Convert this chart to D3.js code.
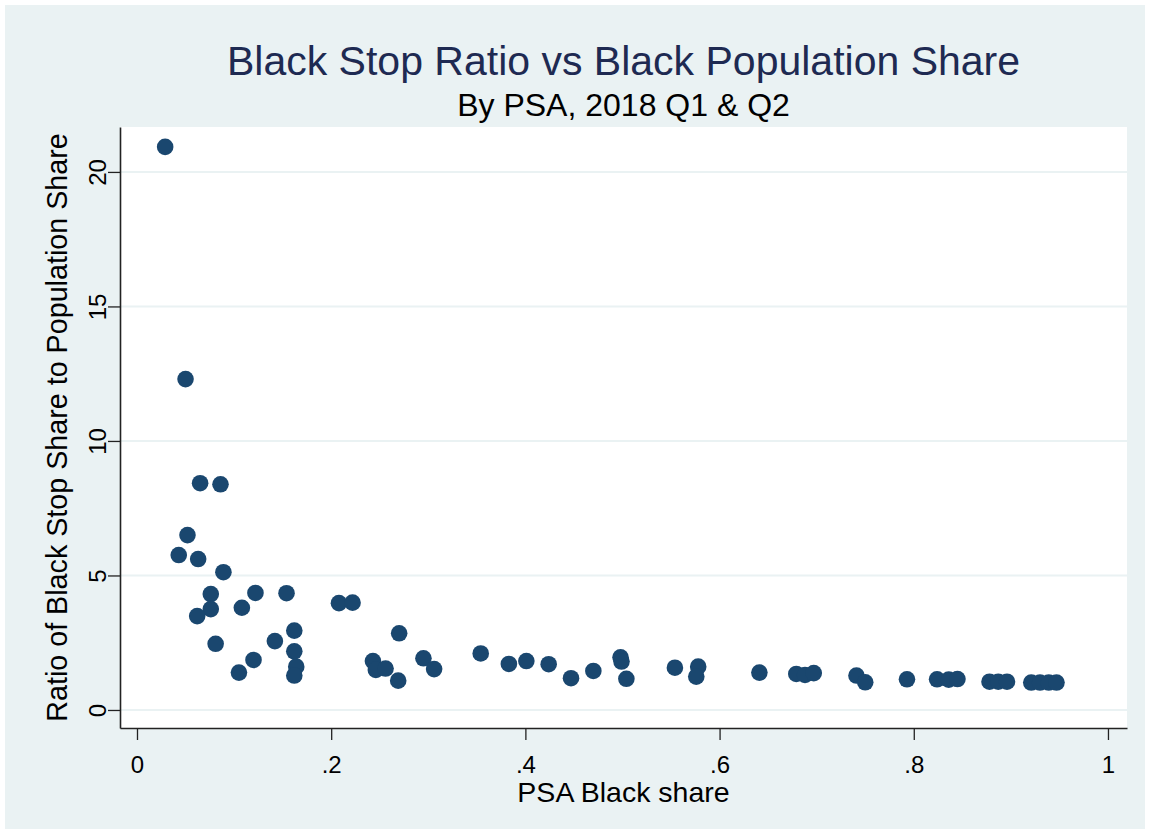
<!DOCTYPE html>
<html>
<head>
<meta charset="utf-8">
<script src="https://cdn.jsdelivr.net/npm/d3@7"></script>
<style>
  body { margin: 0; background: #fff; }
  text { font-family: "Liberation Sans", Arial, sans-serif; }
</style>
</head>
<body>
<svg id="viz" width="1151" height="834"></svg>
<script>
// PSA black population share (x) and black stop ratio (y)
var blackShare = [0.029, 0.050, 0.065, 0.086, 0.052, 0.043, 0.063, 0.089,
	0.076, 0.076, 0.062, 0.081, 0.105, 0.108, 0.120, 0.122,
	0.142, 0.154, 0.162, 0.162, 0.164, 0.162,
	0.208, 0.222, 0.243, 0.246, 0.256, 0.269, 0.270, 0.295, 0.306,
	0.354, 0.383, 0.401, 0.424, 0.447, 0.470, 0.498, 0.499, 0.504,
	0.554, 0.578, 0.576,
	0.641, 0.679, 0.688, 0.697, 0.741, 0.750, 0.793,
	0.824, 0.836, 0.845, 0.878, 0.887, 0.896,
	0.921, 0.930, 0.939, 0.947];
var stopRatio = [20.93, 12.30, 8.43, 8.39, 6.50, 5.76, 5.61, 5.12,
	4.31, 3.75, 3.49, 2.46, 1.39, 3.80, 1.86, 4.35,
	2.56, 4.34, 2.95, 2.18, 1.61, 1.28,
	3.97, 3.99, 1.82, 1.49, 1.54, 1.09, 2.85, 1.92, 1.52,
	2.10, 1.71, 1.82, 1.70, 1.18, 1.45, 1.96, 1.80, 1.16,
	1.57, 1.61, 1.24,
	1.39, 1.34, 1.30, 1.37, 1.28, 1.03, 1.14,
	1.14, 1.13, 1.15, 1.05, 1.05, 1.05,
	1.02, 1.02, 1.02, 1.02];
var xTicks = [0, 0.2, 0.4, 0.6, 0.8, 1];
var xTickLabels = ['0', '.2', '.4', '.6', '.8', '1'];
var yTicks = [0, 5, 10, 15, 20];

var viz = d3.select('#viz');
var pLeft = 120, pRight = 1127, pTop = 127, pBottom = 728;
var font = '"Liberation Sans", Arial, sans-serif';

// outer panel
viz.append('rect').attr('x', 5).attr('y', 5).attr('width', 1140).attr('height', 824)
	.attr('fill', '#eaf2f3');
viz.append('rect').attr('x', pLeft).attr('y', pTop).attr('width', pRight - pLeft).attr('height', pBottom - pTop)
	.attr('fill', '#fff');

var x = d3.scaleLinear().domain([-0.0175, 1.0196]).range([pLeft, pRight]);
var y = d3.scaleLinear().domain([-0.67, 21.67]).range([pBottom, pTop]);

// grid
viz.append('g').selectAll('line').data(yTicks).enter().append('line')
	.attr('x1', pLeft).attr('x2', pRight)
	.attr('y1', function(d) { return y(d); }).attr('y2', function(d) { return y(d); })
	.attr('stroke', '#eaf2f3').attr('stroke-width', 2);

var xAxis = viz.append('g').attr('transform', 'translate(0,' + pBottom + ')')
	.call(d3.axisBottom(x).tickValues(xTicks).tickSize(12).tickSizeOuter(0)
		.tickFormat(function(d, i) { return xTickLabels[i]; }));
xAxis.attr('font-family', null).attr('font-size', null);
xAxis.select('.domain').attr('stroke', '#222').attr('stroke-width', 1.6);
xAxis.selectAll('.tick line').attr('stroke', '#222').attr('stroke-width', 1.3);
xAxis.selectAll('.tick text').attr('font-size', 24).attr('fill', '#000').attr('dy', null).attr('y', 45)
	.style('font-family', font);

var yAxis = viz.append('g').attr('transform', 'translate(' + pLeft + ',0)')
	.call(d3.axisLeft(y).tickValues(yTicks).tickSize(12).tickSizeOuter(0));
yAxis.attr('font-family', null).attr('font-size', null);
yAxis.select('.domain').attr('stroke', '#222').attr('stroke-width', 1.6);
yAxis.selectAll('.tick line').attr('stroke', '#222').attr('stroke-width', 1.3);
yAxis.selectAll('.tick text').attr('font-size', 24).attr('fill', '#000')
	.attr('x', null).attr('dy', null)
	.attr('transform', 'translate(-14,0) rotate(-90)')
	.attr('text-anchor', 'middle')
	.style('font-family', font);

// points
viz.append('g').selectAll('circle').data(blackShare).enter().append('circle')
	.attr('cx', function(d) { return x(d); })
	.attr('cy', function(d, i) { return y(stopRatio[i]); })
	.attr('r', 8.3)
	.attr('fill', '#1a476f');

// titles
var midX = (pLeft + pRight) / 2;
viz.append('text').attr('x', midX).attr('y', 75).attr('text-anchor', 'middle')
	.attr('font-size', 41).attr('fill', '#1e2a52').text('Black Stop Ratio vs Black Population Share');
viz.append('text').attr('x', midX).attr('y', 116).attr('text-anchor', 'middle')
	.attr('font-size', 32).attr('fill', '#000').text('By PSA, 2018 Q1 & Q2');
viz.append('text').attr('x', midX).attr('y', 802).attr('text-anchor', 'middle')
	.attr('font-size', 28.5).attr('fill', '#000').text('PSA Black share');
viz.append('text').attr('transform', 'translate(67,' + ((pTop + pBottom) / 2) + ') rotate(-90)')
	.attr('text-anchor', 'middle')
	.attr('font-size', 28.7).attr('fill', '#000').text('Ratio of Black Stop Share to Population Share');
</script>
</body>
</html>
